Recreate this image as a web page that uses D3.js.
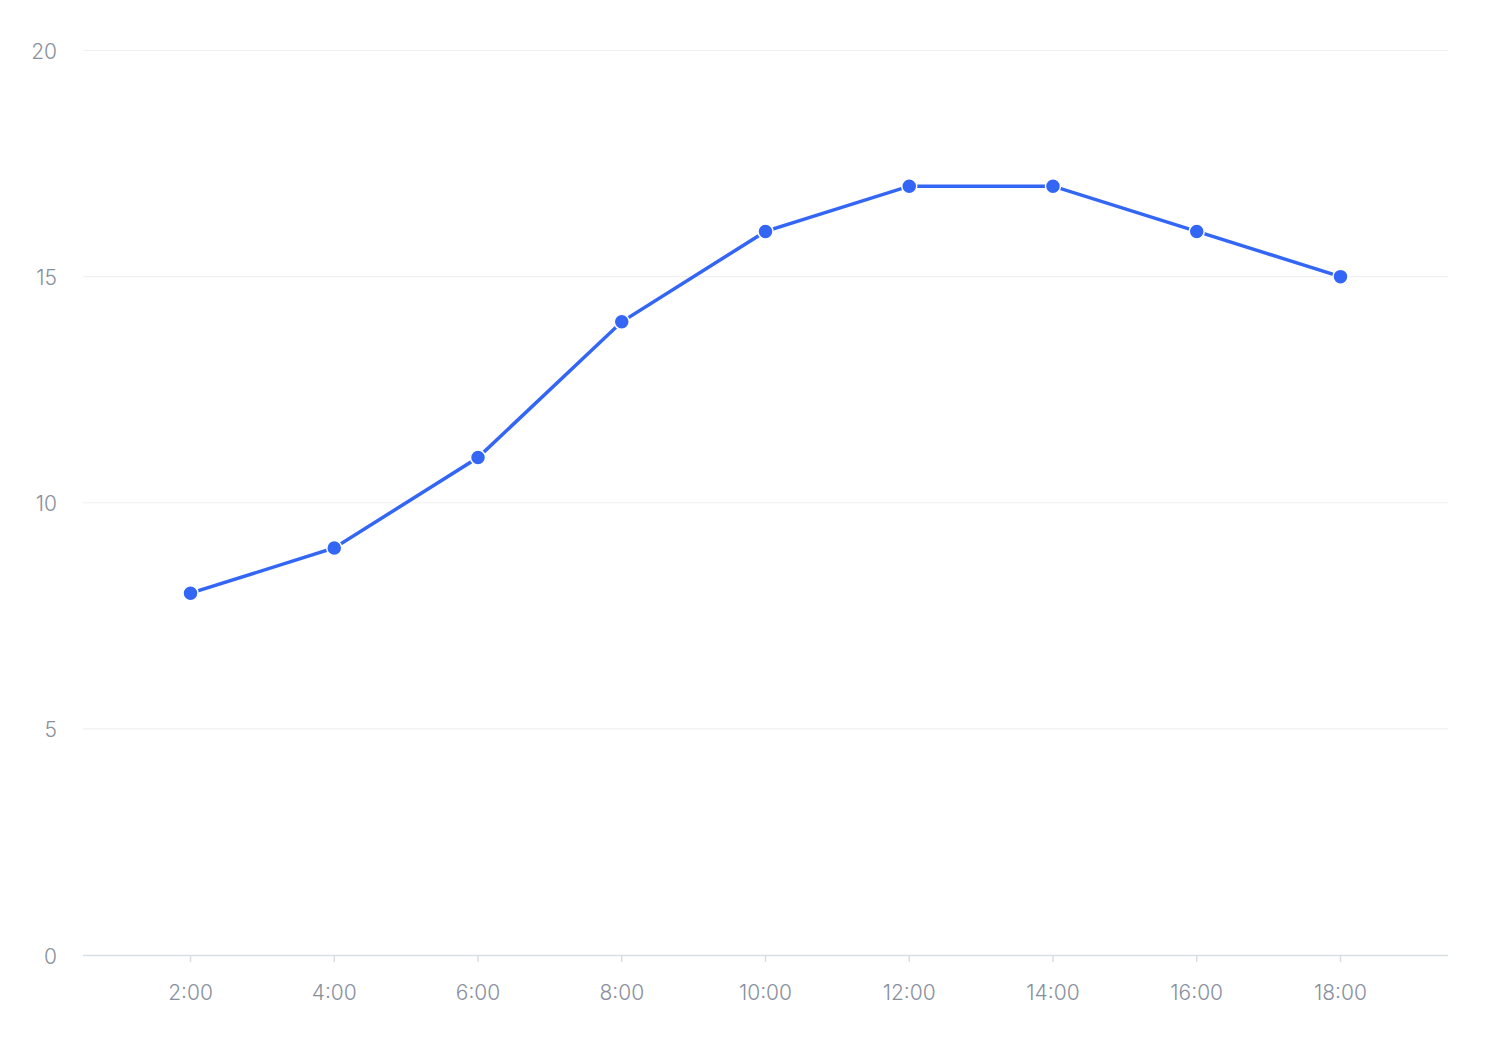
<!DOCTYPE html>
<html><head><meta charset="utf-8">
<script src="https://cdn.jsdelivr.net/npm/d3@7"></script>
<style>body{margin:0;background:#fff;}svg{display:block;font-family:Inter,"Noto Sans",sans-serif;}</style>
</head><body>
<svg id="c" width="1496" height="1040"></svg>
<script>
const categories = ["2:00","4:00","6:00","8:00","10:00","12:00","14:00","16:00","18:00"];
const values = [8,9,11,14,16,17,17,16,15];
const yTicks = [0,5,10,15,20];

const svg = d3.select("#c");
const L = 83, R = 1448, T = 50.5, B = 955;
const x = d3.scalePoint().domain(categories).range([L, R]).padding(0.748);
const y = d3.scaleLinear().domain([0,20]).range([B, T]);

svg.append("g").selectAll("line").data(yTicks.filter(d=>d>0)).join("line")
  .attr("x1", L).attr("x2", R).attr("y1", d=>y(d)).attr("y2", d=>y(d))
  .attr("stroke", "#eef0f3").attr("stroke-width", 1.2);

svg.append("g").selectAll("text").data(yTicks).join("text")
  .attr("x", 57).attr("y", d=>y(d)+1).attr("dy", "0.36em")
  .attr("text-anchor", "end").attr("font-size", 21).attr("font-weight", 300).attr("fill", "#89909d")
  .text(d=>d);

svg.append("line").attr("x1", L).attr("x2", R).attr("y1", B+0.5).attr("y2", B+0.5)
  .attr("stroke", "#d9dde4").attr("stroke-width", 1.5);

svg.append("g").selectAll("line").data(categories).join("line")
  .attr("x1", d=>x(d)).attr("x2", d=>x(d)).attr("y1", B).attr("y2", B+7)
  .attr("stroke", "#d9dde4").attr("stroke-width", 1.5);

svg.append("g").selectAll("text").data(categories).join("text")
  .attr("x", d=>x(d)).attr("y", 992).attr("dy", "0.36em")
  .attr("text-anchor", "middle").attr("font-size", 21).attr("font-weight", 300).attr("fill", "#89909d")
  .text(d=>d);

const data = categories.map((c,i)=>({c, v: values[i]}));
svg.append("path").datum(data)
  .attr("d", d3.line().x(d=>x(d.c)).y(d=>y(d.v)))
  .attr("fill", "none").attr("stroke", "#3366f5").attr("stroke-width", 3.5);

svg.append("g").selectAll("circle").data(data).join("circle")
  .attr("cx", d=>x(d.c)).attr("cy", d=>y(d.v)).attr("r", 7.5)
  .attr("fill", "#3366f5").attr("stroke", "#fff").attr("stroke-width", 1.5);
</script>
</body></html>
